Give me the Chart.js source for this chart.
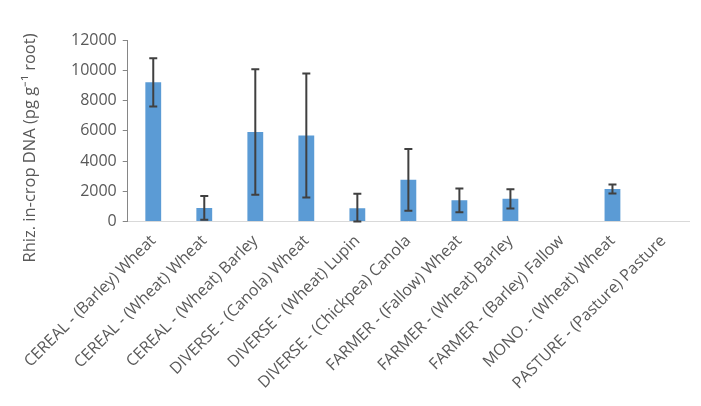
<!DOCTYPE html>
<html>
<head>
<meta charset="utf-8">
<script src="https://cdn.jsdelivr.net/npm/chart.js@4"></script>
<style>
html,body{margin:0;padding:0;background:#fff;}
#wrap{width:701px;height:406px;}
</style>
</head>
<body>
<div id="wrap"><canvas id="c" width="701" height="406"></canvas></div>
<script>
const categories = [
  "CEREAL - (Barley) Wheat",
  "CEREAL - (Wheat) Wheat",
  "CEREAL - (Wheat) Barley",
  "DIVERSE - (Canola) Wheat",
  "DIVERSE - (Wheat) Lupin",
  "DIVERSE - (Chickpea) Canola",
  "FARMER - (Fallow) Wheat",
  "FARMER - (Wheat) Barley",
  "FARMER - (Barley) Fallow",
  "MONO. - (Wheat) Wheat",
  "PASTURE - (Pasture) Pasture"
];
const values = [9200, 900, 5920, 5680, 880, 2760, 1400, 1500, 0, 2150, 0];
const errors = [1600, 790, 4150, 4100, 950, 2040, 780, 640, 0, 300, 0];
const yTicks = [0, 2000, 4000, 6000, 8000, 10000, 12000];
const yTitle = "Rhiz. in-crop DNA (pg g\u207B\u00B9 root)";

const errorBarPlugin = {
  id: 'errorBars',
  afterDatasetsDraw(chart) {
    const ctx = chart.ctx;
    const meta = chart.getDatasetMeta(0);
    const y = chart.scales.y;
    ctx.save();
    ctx.strokeStyle = '#404040';
    ctx.lineWidth = 2;
    meta.data.forEach((bar, i) => {
      const v = values[i], e = errors[i];
      if (!e) return;
      const top = y.getPixelForValue(v + e);
      const bot = y.getPixelForValue(Math.max(0, v - e));
      const x = bar.x;
      ctx.beginPath();
      ctx.moveTo(x, top); ctx.lineTo(x, bot);
      ctx.moveTo(x - 4, top); ctx.lineTo(x + 4, top);
      ctx.moveTo(x - 4, bot); ctx.lineTo(x + 4, bot);
      ctx.stroke();
    });
    ctx.restore();
  }
};

const yTitlePlugin = {
  id: 'yTitle',
  afterDraw(chart) {
    const ctx = chart.ctx;
    ctx.save();
    ctx.translate(30, 148);
    ctx.rotate(-Math.PI / 2);
    ctx.fillStyle = '#595959';
    ctx.font = '16.5px "Open Sans"';
    ctx.textAlign = 'center';
    ctx.textBaseline = 'middle';
    ctx.fillText(yTitle, 0, 0);
    ctx.restore();
  }
};

new Chart(document.getElementById('c'), {
  type: 'bar',
  data: {
    labels: categories,
    datasets: [{
      data: values,
      backgroundColor: '#5B9BD5',
      borderWidth: 0,
      barPercentage: 0.31,
      categoryPercentage: 1.0
    }]
  },
  options: {
    responsive: false,
    animation: false,
    layout: { padding: { top: 40, right: 12, left: 65, bottom: 11 } },
    plugins: { legend: { display: false }, tooltip: { enabled: false } },
    scales: {
      x: {
        grid: { display: false },
        border: { display: true, color: '#d9d9d9', width: 1 },
        ticks: {
          color: '#595959',
          font: { family: 'Open Sans', size: 16 },
          maxRotation: 45, minRotation: 45, autoSkip: false, padding: 2
        }
      },
      y: {
        min: 0, max: 12000,
        afterBuildTicks(axis) { axis.ticks = yTicks.map(v => ({ value: v })); },
        grid: { display: true, drawOnChartArea: false, drawTicks: true, tickLength: 5, color: '#868686' },
        border: { display: true, color: '#868686', width: 1 },
        ticks: {
          color: '#595959',
          font: { family: 'Open Sans', size: 16 },
          padding: 6,
          callback: (v) => String(v)
        }
      }
    }
  },
  plugins: [errorBarPlugin, yTitlePlugin]
});
</script>
</body>
</html>
